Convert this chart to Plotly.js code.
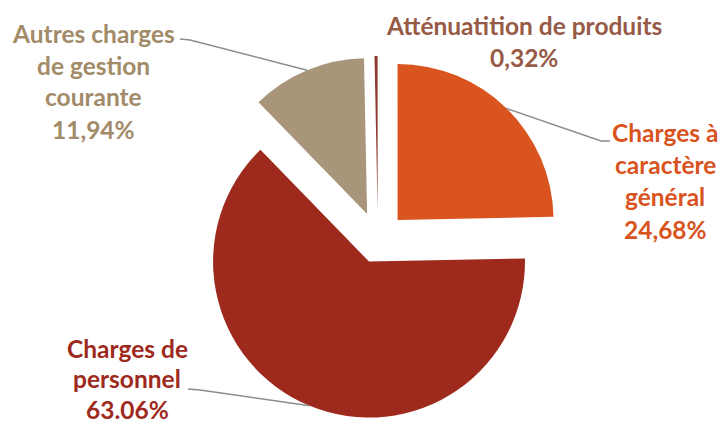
<!DOCTYPE html>
<html>
<head>
<meta charset="utf-8">
<script src="https://cdn.plot.ly/plotly-3.0.1.min.js"></script>
<style>html,body{margin:0;padding:0;background:#fff;overflow:hidden}</style>
</head>
<body>
<div id="chart" style="width:724px;height:424px"></div>
<script>
// ---- data ----
const categories = ["Charges à caractère général", "Charges de personnel", "Autres charges de gestion courante", "Atténuatition de produits"];
const values = [24.68, 63.06, 11.94, 0.32];
const valueLabels = ["24,68%", "63.06%", "11,94%", "0,32%"];
const labelLines = [
  ["Charges à", "caractère", "général"],
  ["Charges de", "personnel"],
  ["Autres charges", "de gestion", "courante"],
  ["Atténuatition de produits"]
];

// ---- styles ----
const sliceColors = ["#D9541F", "#9E2A1D", "#A8957A", "#8E3B2E"];
const textColors = ["#D9531E", "#9E2A1E", "#A28B68", "#965A46"];
const pulls = [0.18, 0.15, 0.18, 0.18];
const W = 724, H = 424;
const domX = [0.2, 0.844], domY = [0, 0.868];
const fontFam = "Lato, 'Open Sans', sans-serif";
const fontSize = 24.5;
const lineGap = 32;
// label layout: centre x, first line centre y, leader elbow [label end, elbow] (px)
const labelPos = [
  {x: 665, y: 133, leader: [[610, 141], [601, 141]]},
  {x: 127, y: 348, leader: [[188, 389], [200, 390]]},
  {x: 93,  y: 33,  leader: [[180, 39], [190, 40]]},
  {x: 524, y: 25,  leader: null}
];

// ---- geometry (mirrors plotly pie scaling) ----
const maxPull = Math.max(...pulls);
const boxW = W * (domX[1] - domX[0]), boxH = H * (domY[1] - domY[0]);
const R = Math.min(boxW, boxH) / (2 + 2 * maxPull);
const cx = W * (domX[0] + domX[1]) / 2;
const cy = H * (1 - domY[0]) - boxH / 2;
const total = values.reduce((a, b) => a + b, 0);

const annotations = [];
const shapes = [];
let cum = 0;
values.forEach((v, i) => {
  const mid = (cum + v / 2) / total * 2 * Math.PI; // clockwise from 12 o'clock
  cum += v;
  const dx = Math.sin(mid), dy = -Math.cos(mid);
  const ax = cx + (1 + pulls[i]) * R * dx;
  const ay = cy + (1 + pulls[i]) * R * dy;
  const lp = labelPos[i];
  const lines = labelLines[i].concat([valueLabels[i]]);
  const gap = i === 1 ? 30.5 : lineGap;
  lines.forEach((t, k) => {
    annotations.push({
      xref: "paper", yref: "paper",
      x: lp.x / W, y: 1 - (lp.y + k * gap) / H,
      xanchor: "center", yanchor: "middle",
      text: "<b>" + t + "</b>", showarrow: false,
      font: {family: fontFam, size: fontSize, color: textColors[i]}
    });
  });
  if (lp.leader) {
    const pts = lp.leader.concat([[ax, ay]]);
    let path = "M " + pts.map(p => (p[0] / W) + "," + (1 - p[1] / H)).join(" L ");
    shapes.push({type: "path", xref: "paper", yref: "paper", path: path,
      line: {color: "#8C8C8C", width: 1.5}});
  }
});

const trace = {
  type: "pie",
  labels: categories,
  values: values,
  sort: false,
  direction: "clockwise",
  rotation: 0,
  pull: pulls,
  textinfo: "none",
  hoverinfo: "label+percent",
  marker: {colors: sliceColors, line: {width: 0}},
  domain: {x: domX, y: domY}
};

Plotly.newPlot("chart", [trace], {
  width: W, height: H,
  margin: {l: 0, r: 0, t: 0, b: 0},
  paper_bgcolor: "#ffffff",
  showlegend: false,
  annotations: annotations,
  shapes: shapes
}, {staticPlot: true});
</script>
</body>
</html>
